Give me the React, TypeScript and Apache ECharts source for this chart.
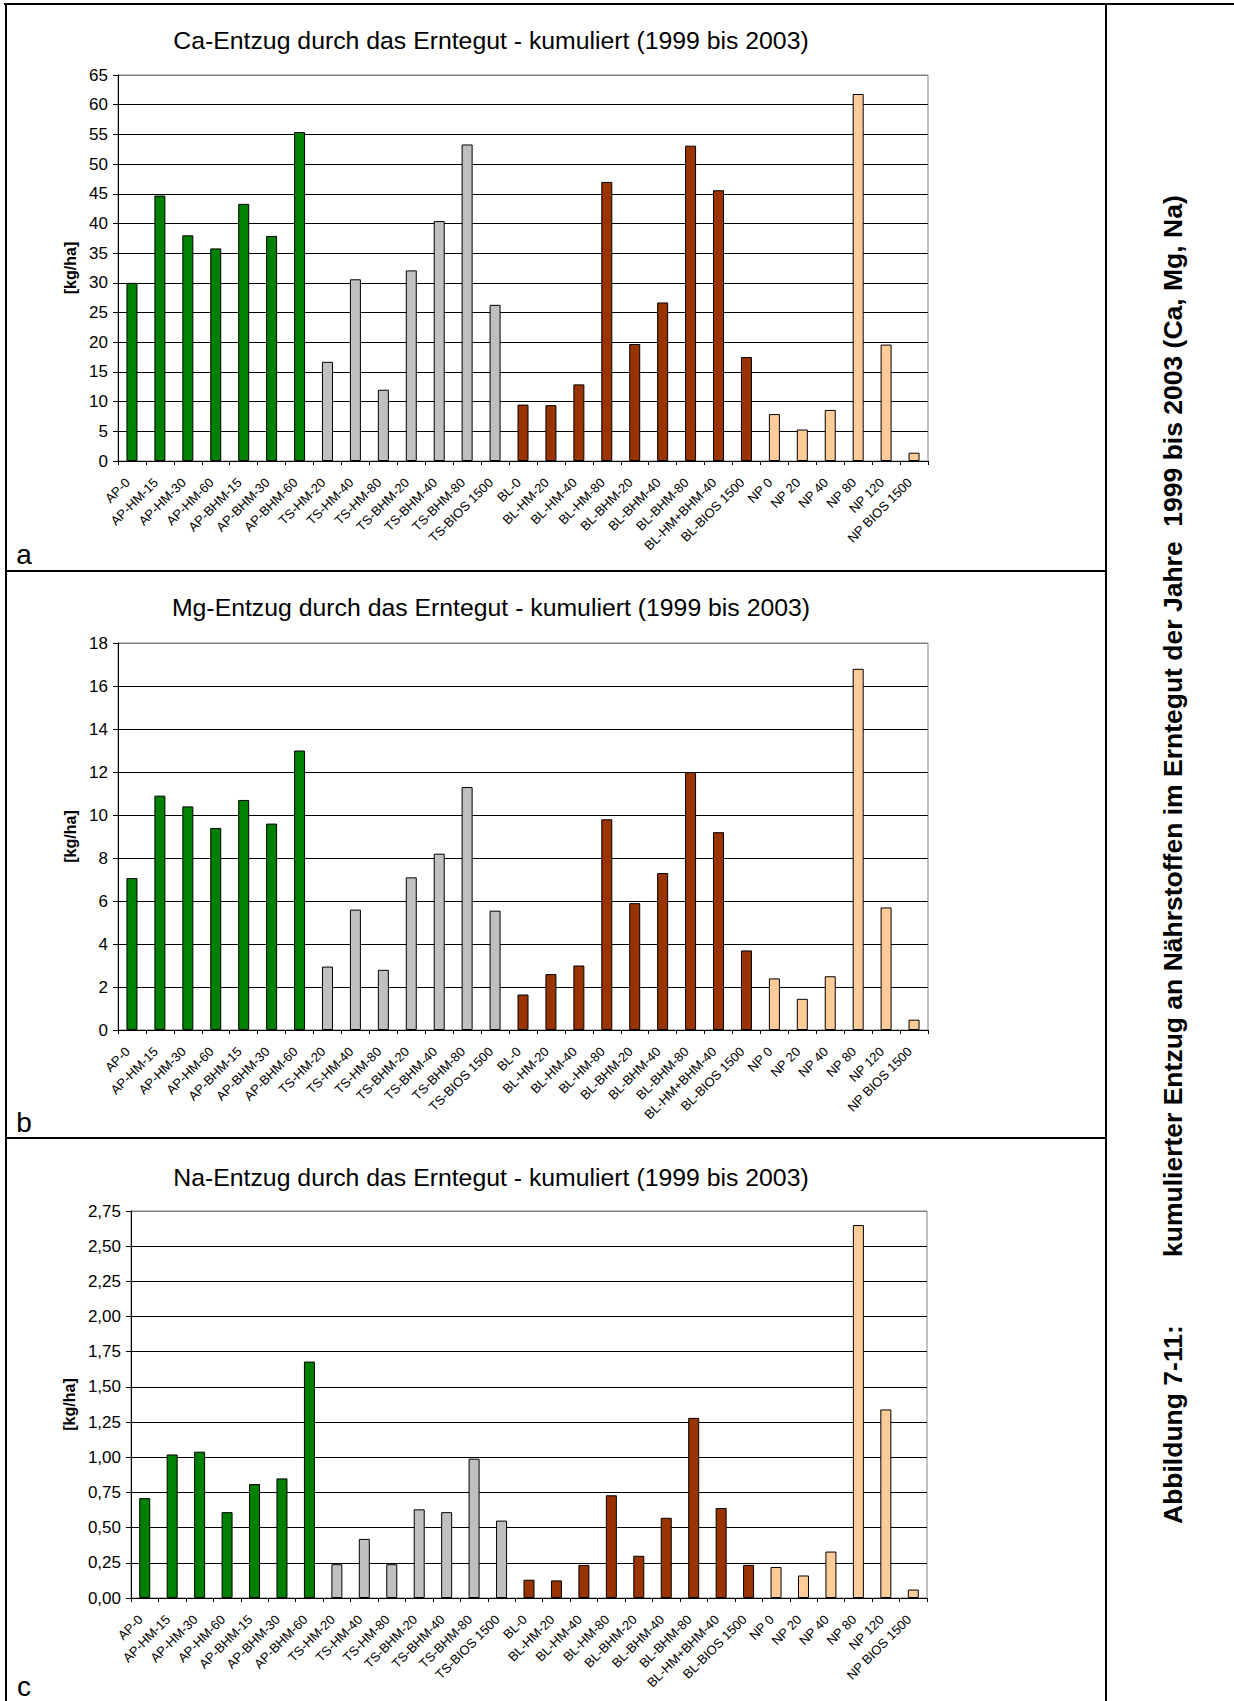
import React, { useEffect, useRef } from "react";
import * as echarts from "echarts";

const categories = [
  "AP-0", "AP-HM-15", "AP-HM-30", "AP-HM-60", "AP-BHM-15", "AP-BHM-30", "AP-BHM-60",
  "TS-HM-20", "TS-HM-40", "TS-HM-80", "TS-BHM-20", "TS-BHM-40", "TS-BHM-80", "TS-BIOS 1500",
  "BL-0", "BL-HM-20", "BL-HM-40", "BL-HM-80", "BL-BHM-20", "BL-BHM-40", "BL-BHM-80", "BL-HM+BHM-40", "BL-BIOS 1500",
  "NP 0", "NP 20", "NP 40", "NP 80", "NP 120", "NP BIOS 1500",
];
const groupOfCategory = [
  0, 0, 0, 0, 0, 0, 0,
  1, 1, 1, 1, 1, 1, 1,
  2, 2, 2, 2, 2, 2, 2, 2, 2,
  3, 3, 3, 3, 3, 3,
];
const groupColors = ["#008000", "#C0C0C0", "#993300", "#FFCC99"];

const caValues = [
  30.0, 44.7, 38.0, 35.8, 43.3, 37.9, 55.4,
  16.7, 30.6, 12.0, 32.1, 40.4, 53.3, 26.3,
  9.5, 9.4, 12.9, 47.0, 19.7, 26.7, 53.1, 45.6, 17.5,
  7.9, 5.3, 8.6, 61.8, 19.6, 1.4,
];
const mgValues = [
  7.07, 10.9, 10.4, 9.4, 10.7, 9.6, 13.0,
  2.95, 5.6, 2.8, 7.1, 8.2, 11.3, 5.55,
  1.65, 2.6, 3.0, 9.8, 5.9, 7.3, 12.0, 9.2, 3.7,
  2.4, 1.45, 2.5, 16.8, 5.7, 0.48,
];
const naValues = [
  0.71, 1.02, 1.04, 0.61, 0.81, 0.85, 1.68,
  0.24, 0.42, 0.24, 0.63, 0.61, 0.99, 0.55,
  0.13, 0.125, 0.235, 0.73, 0.30, 0.57, 1.28, 0.64, 0.235,
  0.22, 0.16, 0.33, 2.65, 1.34, 0.06,
];

const chartTitles = [
  "Ca-Entzug durch das Erntegut - kumuliert (1999 bis 2003)",
  "Mg-Entzug durch das Erntegut - kumuliert (1999 bis 2003)",
  "Na-Entzug durch das Erntegut - kumuliert (1999 bis 2003)",
];
const yAxisMax = [65, 18, 2.75];
const yAxisInterval = [5, 2, 0.25];
const yAxisDecimals = [0, 0, 2];
const yAxisName = "[kg/ha]";
const panelLetters = ["a", "b", "c"];
const captionLabel = "Abbildung 7-11:";
const captionText = "kumulierter Entzug an Nährstoffen im Erntegut der Jahre  1999 bis 2003 (Ca, Mg, Na)";

const FONT = "'Liberation Sans', Arial, Helvetica, sans-serif";

const grids = [
  { left: 118, top: 75, width: 810, height: 386 },
  { left: 118, top: 643, width: 810, height: 387 },
  { left: 131, top: 1211, width: 796, height: 387 },
];
const nameGaps = [40, 40, 53];
const titleY = [40, 607, 1177];
const letterY = [554, 1122, 1686];

export default function App() {
  const ref = useRef<HTMLDivElement>(null);
  useEffect(() => {
    if (!ref.current) return;
    const chart = echarts.init(ref.current, undefined, { renderer: "svg" });
    const allValues = [caValues, mgValues, naValues];

    const splitColors = (i: number) => {
      const n = Math.round(yAxisMax[i] / yAxisInterval[i]) + 1;
      const arr: string[] = [];
      for (let k = 0; k < n; k++) arr.push(k === n - 1 ? "#808080" : "#000000");
      return arr;
    };

    const graphics: any[] = [];
    const frameLine = (x1: number, y1: number, x2: number, y2: number) => ({
      type: "line",
      shape: { x1, y1, x2, y2 },
      style: { stroke: "#000", lineWidth: 2 },
      silent: true,
    });
    graphics.push(frameLine(4, 4, 1234, 4));
    graphics.push(frameLine(6, 3, 6, 1701));
    graphics.push(frameLine(1106, 3, 1106, 1701));
    graphics.push(frameLine(5, 571, 1106, 571));
    graphics.push(frameLine(5, 1138, 1106, 1138));

    chartTitles.forEach((t, i) => {
      graphics.push({
        type: "text",
        x: 491,
        y: titleY[i],
        style: {
          text: t,
          fontFamily: FONT,
          fontSize: 24.8,
          fill: "#000",
          textAlign: "center",
          textVerticalAlign: "middle",
        },
      });
      graphics.push({
        type: "text",
        x: 24,
        y: letterY[i],
        style: {
          text: panelLetters[i],
          fontFamily: FONT,
          fontSize: 28,
          fill: "#000",
          textAlign: "center",
          textVerticalAlign: "middle",
        },
      });
    });

    graphics.push({
      type: "text",
      x: 1173,
      y: 1524,
      rotation: Math.PI / 2,
      style: {
        text: captionLabel,
        fontFamily: FONT,
        fontSize: 26.5,
        fontWeight: "bold",
        fill: "#000",
        textAlign: "left",
        textVerticalAlign: "middle",
      },
    });
    graphics.push({
      type: "text",
      x: 1173,
      y: 1257,
      rotation: Math.PI / 2,
      style: {
        text: captionText,
        fontFamily: FONT,
        fontSize: 26.5,
        fontWeight: "bold",
        fill: "#000",
        textAlign: "left",
        textVerticalAlign: "middle",
      },
    });

    const option: any = {
      animation: false,
      backgroundColor: "#ffffff",
      textStyle: { fontFamily: FONT },
      grid: grids.map((g) => ({
        ...g,
        show: true,
        borderColor: "#808080",
        borderWidth: 1,
        backgroundColor: "transparent",
        containLabel: false,
      })),
      xAxis: grids.map((_, i) => ({
        type: "category",
        gridIndex: i,
        data: categories,
        axisLine: { show: true, lineStyle: { color: "#000", width: 1 } },
        axisTick: { show: true, length: 4, lineStyle: { color: "#000" } },
        axisLabel: {
          interval: 0,
          rotate: 45,
          fontSize: 13,
          color: "#000",
          margin: 15,
          padding: [0, 6, 0, 0],
          fontFamily: FONT,
        },
        splitLine: { show: false },
      })),
      yAxis: grids.map((_, i) => ({
        type: "value",
        gridIndex: i,
        min: 0,
        max: yAxisMax[i],
        interval: yAxisInterval[i],
        name: yAxisName,
        nameLocation: "middle",
        nameGap: nameGaps[i],
        nameTextStyle: { fontFamily: FONT, fontSize: 16, fontWeight: "bold", color: "#000" },
        axisLine: { show: true, lineStyle: { color: "#000", width: 1 } },
        axisTick: { show: true, length: 5, lineStyle: { color: "#000" } },
        axisLabel: {
          fontSize: 17,
          color: "#000",
          margin: 10,
          fontFamily: FONT,
          formatter: (v: number) => v.toFixed(yAxisDecimals[i]).replace(".", ","),
        },
        splitLine: { show: true, lineStyle: { color: splitColors(i), width: 1 } },
      })),
      series: allValues.map((vals, i) => ({
        type: "bar",
        xAxisIndex: i,
        yAxisIndex: i,
        barWidth: 11,
        data: vals.map((v, k) => ({
          value: v,
          itemStyle: {
            color: groupColors[groupOfCategory[k]],
            borderColor: "#000",
            borderWidth: 1,
          },
        })),
      })),
      graphic: graphics,
    };
    chart.setOption(option);
    return () => chart.dispose();
  }, []);

  return (
    <div
      ref={ref}
      style={{ position: "absolute", left: 0, top: 0, width: 1234, height: 1701, background: "#fff" }}
    />
  );
}
